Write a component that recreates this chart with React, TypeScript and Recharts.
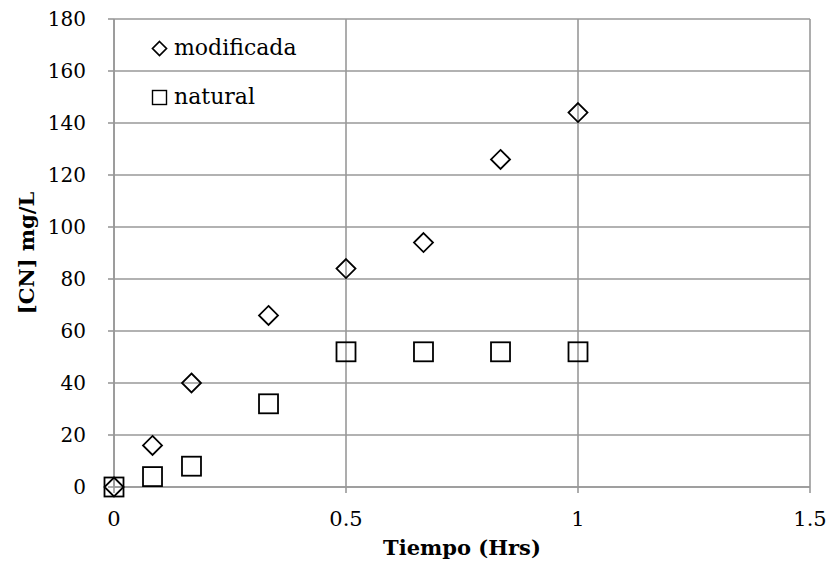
import React from 'react'
import {
  ScatterChart,
  Scatter,
  XAxis,
  YAxis,
  CartesianGrid,
  Legend,
} from 'recharts'

const timeHrs = [0, 0.083, 0.167, 0.333, 0.5, 0.667, 0.833, 1]
const modificadaValues = [0, 16, 40, 66, 84, 94, 126, 144]
const naturalValues = [0, 4, 8, 32, 52, 52, 52, 52]
const xTicks = [0, 0.5, 1, 1.5]
const yTicks = [0, 20, 40, 60, 80, 100, 120, 140, 160, 180]

const modificada = timeHrs.map((t, i) => ({ x: t, y: modificadaValues[i] }))
const natural = timeHrs.map((t, i) => ({ x: t, y: naturalValues[i] }))

const FONT = '"DejaVu Serif", serif'
const GRID = '#999999'

const Diamond = (props: any) => {
  const { cx, cy } = props
  const r = 9.5
  return (
    <polygon
      points={`${cx},${cy - r} ${cx + r},${cy} ${cx},${cy + r} ${cx - r},${cy}`}
      fill="none"
      stroke="#000"
      strokeWidth={1.8}
    />
  )
}

const Square = (props: any) => {
  const { cx, cy } = props
  const r = 9.5
  return <rect x={cx - r} y={cy - r} width={2 * r} height={2 * r} fill="none" stroke="#000" strokeWidth={1.8} />
}

// x ticks: label top sits ~24px under the axis
const XTick = (props: any) => {
  const { x, payload } = props
  return (
    <text x={x} y={487 + 24} dy="0.72em" textAnchor="middle" fill="#000" fontSize={21} fontFamily={FONT}>
      {payload.value}
    </text>
  )
}

const YTick = (props: any) => {
  const { y, payload } = props
  return (
    <text x={86} y={y} dy="0.36em" textAnchor="end" fill="#000" fontSize={20} fontFamily={FONT}>
      {payload.value}
    </text>
  )
}

const LegendContent = () => (
  <div style={{ fontFamily: FONT, fontSize: 22, color: '#000', lineHeight: '26px' }}>
    <div style={{ display: 'flex', alignItems: 'center', height: 26, marginBottom: 23 }}>
      <svg width={17} height={17} style={{ marginRight: 6 }}>
        <polygon points="8.5,1.5 15.5,8.5 8.5,15.5 1.5,8.5" fill="none" stroke="#000" strokeWidth={1.7} />
      </svg>
      <span>modificada</span>
    </div>
    <div style={{ display: 'flex', alignItems: 'center', height: 26 }}>
      <svg width={17} height={17} style={{ marginRight: 6 }}>
        <rect x={1.5} y={1.5} width={14} height={14} fill="none" stroke="#000" strokeWidth={1.4} />
      </svg>
      <span>natural</span>
    </div>
  </div>
)

export default function App() {
  return (
    <div style={{ position: 'absolute', left: 0, top: 0, width: 829, height: 561, background: '#fff' }}>
      <ScatterChart width={829} height={561} margin={{ top: 19, right: 19, left: 0, bottom: 0 }}>
        <CartesianGrid stroke={GRID} strokeWidth={1.6} />
        <XAxis
          type="number"
          dataKey="x"
          domain={[0, 1.5]}
          ticks={xTicks}
          height={74}
          stroke={GRID}
          strokeWidth={1.6}
          tickSize={6}
          tick={<XTick />}
          label={{
            value: 'Tiempo (Hrs)',
            position: 'insideBottom',
            offset: 6,
            fill: '#000',
            fontSize: 21,
            fontWeight: 'bold',
            fontFamily: FONT,
          }}
        />
        <YAxis
          type="number"
          dataKey="y"
          domain={[0, 180]}
          ticks={yTicks}
          width={114}
          stroke={GRID}
          strokeWidth={1.6}
          tickSize={6}
          tick={<YTick />}
          label={{
            value: '[CN] mg/L',
            angle: -90,
            position: 'insideLeft',
            offset: 27,
            fill: '#000',
            fontSize: 21,
            fontWeight: 'bold',
            fontFamily: FONT,
            style: { textAnchor: 'middle' },
          }}
        />
        <Legend
          layout="vertical"
          align="center"
          verticalAlign="middle"
          content={<LegendContent />}
          wrapperStyle={{ left: 151, top: 35, width: 220, height: 80 }}
        />
        <Scatter name="modificada" data={modificada} shape={<Diamond />} isAnimationActive={false} />
        <Scatter name="natural" data={natural} shape={<Square />} isAnimationActive={false} />
      </ScatterChart>
    </div>
  )
}
